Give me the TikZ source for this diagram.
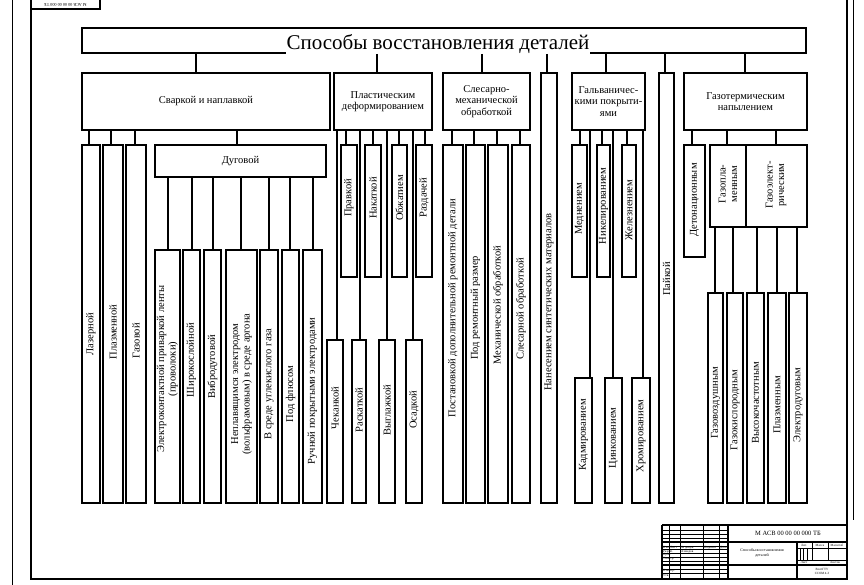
\documentclass[tikz,border=0pt]{standalone}
\usepackage{fontspec}
\setmainfont{Liberation Serif}
\tikzset{
  bx/.style={draw, line width=1.8pt, inner sep=0pt, fill=white},
  lbl/.style={font=\fontsize{10.5}{11.5}\selectfont, align=center, inner sep=0pt},
  vlbl/.style={lbl, rotate=90},
  cn/.style={line width=1.8pt},
  thin/.style={line width=0.6pt},
  tb/.style={line width=1.2pt},
  tiny/.style={font=\fontsize{3.2}{3.6}\selectfont, inner sep=0pt, align=center},
}
% name, x1, x2, y1, y2
\newcommand\mkbox[5]{\node[bx, minimum width={(#3-#2)*1pt}, minimum height={(#5-#4)*1pt}] (#1) at ({(#2+#3)/2},{(#4+#5)/2}) {};}
% name, y-centre, text (rotated)
\newcommand\vlab[3]{\node[vlbl] (#1-t) at (#1.center |- 0,#2) {#3};}
% name, text (horizontal, centred)
\newcommand\hlab[2]{\node[lbl] (#1-t) at (#1.center) {#2};}
% parent, x, child
\newcommand\cnx[3]{\draw[cn] (#2,0 |- #1.south) -- (#2,0 |- #3.north);}
\begin{document}
\begin{tikzpicture}[x=1pt,y=-1pt]
\useasboundingbox (0,0) rectangle (864,585);
% frame
\draw[thin] (12,-2) -- (12,587);
\draw[line width=2.2pt] (31,-3) -- (31,579) -- (847,579) -- (847,-3);
\draw[thin] (853,-2) -- (853,520);
\node[draw, line width=1.5pt, minimum width=69pt, minimum height=12pt, inner sep=0pt] (stamp) at (65.5,3) {};
\node[tiny, rotate=180, font=\fontsize{4.2}{4.2}\selectfont] (stamp-t) at (65.5,5) {М АСВ 00 00 00 000 ТБ};

% title
\mkbox{title}{82}{806}{28}{53}
\node[font=\fontsize{21}{22}\selectfont, fill=white, inner sep=1pt, anchor=base] (title-t) at (438,49.5) {Способы восстановления деталей};

% level 1
\mkbox{svarka}{82}{330}{73}{130}   \hlab{svarka}{Сваркой и наплавкой}
\mkbox{plast}{334}{432}{73}{130}   \hlab{plast}{Пластическим\\деформированием}
\mkbox{sles}{443}{530}{73}{130}    \hlab{sles}{Слесарно-\\механической\\обработкой}
\mkbox{synth}{541}{557}{73}{503}   \vlab{synth}{302}{Нанесением синтетических материалов}
\mkbox{galv}{572}{645}{73}{130}    \hlab{galv}{Гальваничес-\\кими покрыти-\\ями}
\mkbox{payka}{659}{674}{73}{503}   \vlab{payka}{279}{Пайкой}
\mkbox{gaz}{684}{807}{73}{130}     \hlab{gaz}{Газотермическим\\напылением}

\cnx{title}{196}{svarka}
\cnx{title}{377}{plast}
\cnx{title}{482}{sles}
\cnx{title}{547}{synth}
\cnx{title}{606}{galv}
\cnx{title}{665}{payka}
\cnx{title}{745}{gaz}

% welding
\mkbox{laser}{82}{100}{145}{503}   \vlab{laser}{334}{Лазерной}
\mkbox{plasma}{103}{123}{145}{503} \vlab{plasma}{332}{Плазменной}
\mkbox{gazov}{126}{146}{145}{503}  \vlab{gazov}{341}{Газовой}
\mkbox{dug}{155}{326}{145}{177}    \hlab{dug}{Дуговой}
\cnx{svarka}{89}{laser}
\cnx{svarka}{111}{plasma}
\cnx{svarka}{135}{gazov}
\cnx{svarka}{237}{dug}

\mkbox{e1}{155}{180}{250}{503} \vlab{e1}{369}{Электроконтактной приваркой ленты\\(проволоки)}
\mkbox{e2}{183}{200}{250}{503} \vlab{e2}{360}{Широкослойной}
\mkbox{e3}{204}{221}{250}{503} \vlab{e3}{367}{Вибродуговой}
\mkbox{e4}{226}{257}{250}{503} \vlab{e4}{384}{Неплавящимся электродом\\(вольфрамовым) в среде аргона}
\mkbox{e5}{260}{278}{250}{503} \vlab{e5}{384}{В среде углекислого газа}
\mkbox{e6}{282}{299}{250}{503} \vlab{e6}{394}{Под флюсом}
\mkbox{e7}{303}{322}{250}{503} \vlab{e7}{391}{Ручной покрытыми электродами}
\cnx{dug}{168}{e1}
\cnx{dug}{192}{e2}
\cnx{dug}{213}{e3}
\cnx{dug}{241}{e4}
\cnx{dug}{269}{e5}
\cnx{dug}{290}{e6}
\cnx{dug}{313}{e7}

% plastic deformation
\mkbox{pravka}{341}{357}{145}{277}  \vlab{pravka}{198}{Правкой}
\mkbox{nakatka}{365}{381}{145}{277} \vlab{nakatka}{198}{Накаткой}
\mkbox{obzh}{392}{407}{145}{277}    \vlab{obzh}{198}{Обжатием}
\mkbox{razd}{416}{432}{145}{277}    \vlab{razd}{198}{Раздачей}
\mkbox{chek}{327}{343}{340}{503}    \vlab{chek}{408}{Чеканкой}
\mkbox{raskat}{352}{366}{340}{503}  \vlab{raskat}{410}{Раскаткой}
\mkbox{vygl}{379}{395}{340}{503}    \vlab{vygl}{410}{Выглажкой}
\mkbox{osad}{406}{422}{340}{503}    \vlab{osad}{410}{Осадкой}
\cnx{plast}{346}{pravka}
\cnx{plast}{373}{nakatka}
\cnx{plast}{399}{obzh}
\cnx{plast}{425}{razd}
\cnx{plast}{337}{chek}
\cnx{plast}{360}{raskat}
\cnx{plast}{387}{vygl}
\cnx{plast}{413}{osad}

% fitting / machining
\mkbox{s1}{443}{463}{145}{503} \vlab{s1}{308}{Постановкой дополнительной ремонтной детали}
\mkbox{s2}{466}{485}{145}{503} \vlab{s2}{308}{Под ремонтный размер}
\mkbox{s3}{488}{508}{145}{503} \vlab{s3}{305}{Механической обработкой}
\mkbox{s4}{512}{530}{145}{503} \vlab{s4}{309}{Слесарной обработкой}
\cnx{sles}{452}{s1}
\cnx{sles}{474}{s2}
\cnx{sles}{497}{s3}
\cnx{sles}{520}{s4}

% galvanic
\mkbox{med}{572}{587}{145}{277}   \vlab{med}{209}{Меднением}
\mkbox{nikel}{597}{610}{145}{277} \vlab{nikel}{206}{Никелированием}
\mkbox{zhel}{622}{636}{145}{277}  \vlab{zhel}{210}{Железнением}
\mkbox{kadm}{575}{592}{378}{503}  \vlab{kadm}{435}{Кадмированием}
\mkbox{cink}{605}{622}{378}{503}  \vlab{cink}{438}{Цинкованием}
\mkbox{hrom}{632}{650}{378}{503}  \vlab{hrom}{436}{Хромированием}
\cnx{galv}{580}{med}
\cnx{galv}{602}{nikel}
\cnx{galv}{627}{zhel}
\cnx{galv}{590}{kadm}
\cnx{galv}{613}{cink}
\cnx{galv}{643}{hrom}

% gas-thermal spraying
\mkbox{deton}{684}{705}{145}{257} \vlab{deton}{200}{Детонационным}
\mkbox{combo}{710}{807}{145}{227}
\draw[cn] (746,0 |- combo.north) -- (746,0 |- combo.south);
\node[vlbl] (gpl-t) at (728,184) {Газопла-\\менным};
\node[vlbl] (gel-t) at (776,185) {Газоэлект-\\рическим};
\cnx{gaz}{692}{deton}
\cnx{gaz}{727}{combo}
\cnx{gaz}{776}{combo}

\mkbox{g1}{708}{723}{293}{503} \vlab{g1}{403}{Газовоздушным}
\mkbox{g2}{727}{743}{293}{503} \vlab{g2}{410}{Газокислородным}
\mkbox{g3}{747}{764}{293}{503} \vlab{g3}{403}{Высокочастотным}
\mkbox{g4}{768}{786}{293}{503} \vlab{g4}{405}{Плазменным}
\mkbox{g5}{789}{807}{293}{503} \vlab{g5}{405}{Электродуговым}
\cnx{combo}{715}{g1}
\cnx{combo}{733}{g2}
\cnx{combo}{757}{g3}
\cnx{combo}{777}{g4}
\cnx{combo}{797}{g5}

% title block
\foreach \yy in {530,534,538,546,549,553,557,561,569,573}{\draw[thin] (662,\yy) -- (728,\yy);}
\foreach \xx in {669,680,703,719}{\draw[thin] (\xx,525) -- (\xx,579);}
\draw[tb] (662,542) -- (847,542);
\draw[tb] (662,565) -- (847,565);
\draw[tb] (662,525) -- (847,525);
\draw[tb] (662,525) -- (662,579);
\draw[tb] (728,525) -- (728,579);
\draw[tb] (797,542) -- (797,579);
\draw[thin] (797,548) -- (847,548);
\draw[thin] (797,560) -- (847,560);
\draw[thin] (812,542) -- (812,560);
\draw[thin] (828,542) -- (828,560);
\foreach \xx in {800,803.5,807}{\draw[line width=0.9pt] (\xx,548) -- (\xx,560);}
\node[font=\fontsize{6.5}{7}\selectfont, inner sep=0pt] (tb-code) at (788,533.5) {М АСВ 00 00 00 000 ТБ};
\node[tiny, font=\fontsize{4}{4.6}\selectfont] (tb-name) at (762,553) {Способы восстановления\\деталей};
\node[tiny] (tb-lit) at (804,545) {Лит.};
\node[tiny] (tb-mass) at (820,545) {Масса};
\node[tiny] (tb-scale) at (837,545) {Масштаб};
\node[tiny] (tb-list) at (804,562.5) {Лист};
\node[tiny] (tb-lists) at (835,562.5) {Листов};
\node[tiny] (tb-org) at (822,571.5) {ВолгГТУ\\ССОМ 4-3};
\node[tiny, anchor=west] (tb-izm) at (663,547.5) {Изм.};
\node[tiny, anchor=west] (tb-lst) at (670,547.5) {Лист};
\node[tiny, anchor=west] (tb-doc) at (681,547.5) {№ докум.};
\node[tiny, anchor=west] (tb-sig) at (704,547.5) {Подпись};
\node[tiny, anchor=west] (tb-date) at (720,547.5) {Дата};
\node[tiny, anchor=west] (tb-r1) at (663,551.3) {Разраб.};
\node[tiny, anchor=west] (tb-r1n) at (681,551.3) {Ахмедов};
\node[tiny, anchor=west] (tb-r2) at (663,555.2) {Пров.};
\node[tiny, anchor=west] (tb-r3) at (663,559.1) {Т.контр.};
\node[tiny, anchor=west] (tb-r4) at (663,571) {Н.контр.};
\node[tiny, anchor=west] (tb-r5) at (663,575.5) {Утв.};
\end{tikzpicture}
\end{document}
